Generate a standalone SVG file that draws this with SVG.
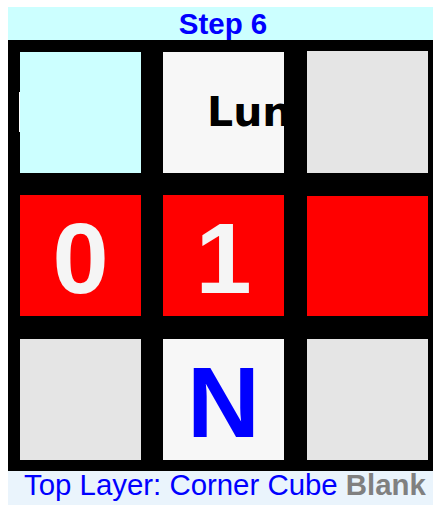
<svg xmlns="http://www.w3.org/2000/svg" width="433" height="508" viewBox="0 0 433 508">
<style>
.cell{stroke:none}
.big{font-family:"Liberation Sans",Arial,sans-serif;font-weight:bold;font-size:101px;text-anchor:middle}
</style>
<defs>
<clipPath id="c2"><rect x="163" y="52" width="121" height="121"/></clipPath>
</defs>
<rect width="433" height="508" fill="#ffffff"/>
<g id="header">
<rect x="8" y="7" width="425" height="33" fill="#ccffff"/>
<text x="223" y="34" font-family="'Liberation Sans',Arial,sans-serif" font-weight="bold" font-size="29.5" fill="#0000ff" text-anchor="middle">Step 6</text>
</g>
<g id="board">
<rect x="8" y="40" width="425" height="431" fill="#000000"/>
</g>
<g id="cell-r1c1">
<rect class="cell" x="20" y="52" width="121" height="121" fill="#ccffff"/>
<rect x="19" y="92" width="1" height="40" fill="#ffffff"/>
</g>
<g id="cell-r1c2">
<rect class="cell" x="163" y="52" width="121" height="121" fill="#f7f7f7"/>
<text x="207" y="126" clip-path="url(#c2)" font-family="'DejaVu Sans',sans-serif" font-weight="bold" font-size="41" fill="#000000">Lun</text>
</g>
<g id="cell-r1c3">
<rect class="cell" x="307" y="51" width="121" height="122" fill="#e5e5e5"/>
</g>
<g id="cell-r2c1">
<rect class="cell" x="20" y="195" width="121" height="121" fill="#ff0000"/>
<text class="big" x="80.5" y="293" fill="#f5f5f5">0</text>
</g>
<g id="cell-r2c2">
<rect class="cell" x="163" y="195" width="121" height="121" fill="#ff0000"/>
<text class="big" x="223.5" y="293" fill="#f5f5f5">1</text>
</g>
<g id="cell-r2c3">
<rect class="cell" x="307" y="196" width="121" height="120" fill="#ff0000"/>
</g>
<g id="cell-r3c1">
<rect class="cell" x="20" y="339" width="121" height="121" fill="#e5e5e5"/>
</g>
<g id="cell-r3c2">
<rect class="cell" x="163" y="339" width="121" height="121" fill="#f7f7f7"/>
<text class="big" x="223.5" y="437" fill="#0000ff">N</text>
</g>
<g id="cell-r3c3">
<rect class="cell" x="307" y="339" width="121" height="121" fill="#e5e5e5"/>
</g>
<g id="connectors"></g>
<g id="footer">
<rect x="8" y="471" width="425" height="34" fill="#eaf4fc"/>
<text x="24" y="495" font-family="'Liberation Sans',Arial,sans-serif" font-size="29.4" fill="#0000ff">Top Layer: Corner Cube <tspan font-weight="bold" fill="#808080">Blank</tspan></text>
</g>
</svg>
